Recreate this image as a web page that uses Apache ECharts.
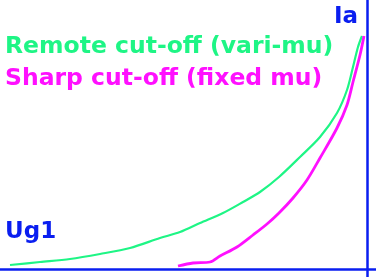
<!DOCTYPE html>
<html>
<head>
<meta charset="utf-8">
<script src="https://cdn.jsdelivr.net/npm/echarts@6/dist/echarts.min.js"></script>
<style>html,body{margin:0;padding:0;background:#fff}#c{width:376px;height:277px}</style>
</head>
<body>
<div id="c"></div>
<script>
// Ug1 (arbitrary units, 0 at Ia axis) and Ia (arbitrary units)
const remoteUg1 = [-35.7,-32.7,-29.7,-26.7,-23.7,-20.7,-18.7,-16.7,-14.4,-12.4,-10.7,-8.8,-6.7,-4.7,-3.0,-2.0,-1.4,-0.9,-0.5];
const remoteIa  = [0.4,0.7,1.0,1.5,2.1,3.1,3.7,4.6,5.6,6.7,7.7,9.2,11.2,13.2,15.6,17.9,20.2,22.2,23.3];
const sharpUg1  = [-18.9,-17.4,-15.7,-14.7,-13.0,-11.4,-10.0,-8.8,-7.4,-6.0,-4.7,-3.0,-2.0,-1.4,-0.7,-0.3];
const sharpIa   = [0.3,0.6,0.7,1.3,2.2,3.4,4.5,5.6,7.1,8.9,11.1,14.1,16.4,18.7,21.4,23.3];
const seriesNames = ['Remote cut-off (vari-mu)','Sharp cut-off (fixed mu)'];
const axisNames = ['Ug1','Ia'];

const GREEN='#1ef585', MAGENTA='#ff10ff', BLUE='#0a1ef0';
const FONT='"DejaVu Sans", sans-serif';
const chart = echarts.init(document.getElementById('c'), null, {renderer:'canvas'});
const zip=(a,b)=>a.map((v,i)=>[v,b[i]]);
chart.setOption({
  animation:false,
  grid:{left:0,right:0,top:0,bottom:0},
  xAxis:{type:'value',min:-36.7,max:0.9,axisLine:{show:true,onZero:true,lineStyle:{color:BLUE,width:2.5}},
         axisTick:{show:false},axisLabel:{show:false},splitLine:{show:false}},
  yAxis:{type:'value',min:-0.8,max:26.9,axisLine:{show:true,onZero:true,lineStyle:{color:BLUE,width:2.5}},
         axisTick:{show:false},axisLabel:{show:false},splitLine:{show:false}},
  series:[
    {name:seriesNames[0],type:'line',data:zip(remoteUg1,remoteIa),smooth:0.3,showSymbol:false,
     lineStyle:{color:GREEN,width:2.2}},
    {name:seriesNames[1],type:'line',data:zip(sharpUg1,sharpIa),smooth:0.3,showSymbol:false,
     lineStyle:{color:MAGENTA,width:2.8}}
  ],
  graphic:[
    {type:'text',left:5,top:35,style:{text:seriesNames[0],fill:GREEN,font:'bold 23.5px '+FONT}},
    {type:'text',left:5,top:67,style:{text:seriesNames[1],fill:MAGENTA,font:'bold 23.5px '+FONT}},
    {type:'text',left:5,top:221,style:{text:axisNames[0],fill:BLUE,font:'bold 23px '+FONT}},
    {type:'text',right:18,top:6,style:{text:axisNames[1],fill:BLUE,font:'bold 23px '+FONT}}
  ]
});
</script>
</body>
</html>
